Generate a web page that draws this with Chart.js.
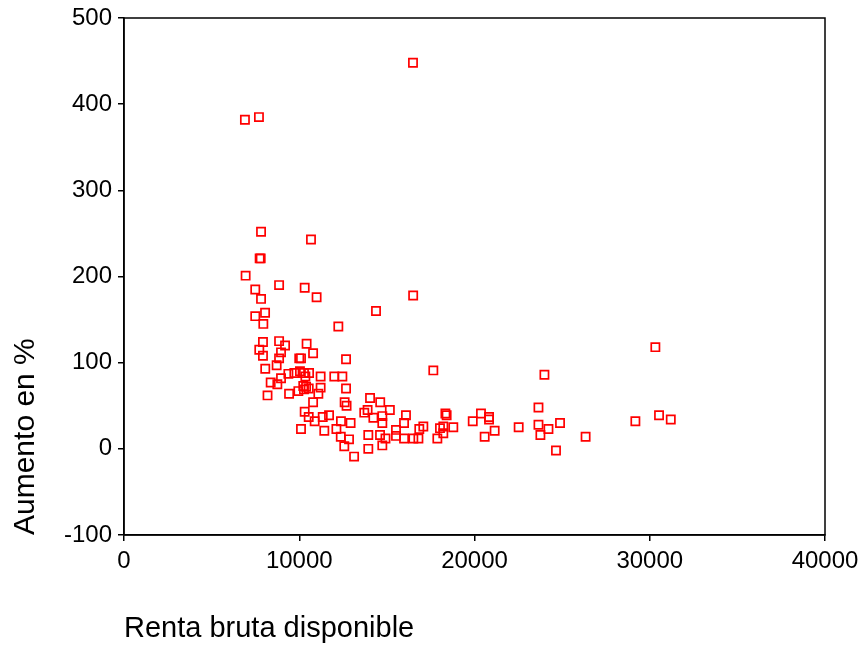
<!DOCTYPE html>
<html>
<head>
<meta charset="utf-8">
<script src="https://cdn.jsdelivr.net/npm/chart.js@4/dist/chart.umd.min.js"></script>
<style>
  html, body { margin: 0; padding: 0; background: #fff; }
  #wrap { width: 864px; height: 646px; }
</style>
</head>
<body>
<div id="wrap"><canvas id="chart" width="864" height="646"></canvas></div>
<script>
// renta bruta disponible (x) and aumento en % (y)
const renta = [
  16490, 6900, 7700, 7820, 7740, 7800, 10670, 6940, 7490, 8850,
  10310, 7820, 10990, 16500, 14380, 8050, 7490, 7950, 12230, 7930,
  8850, 9190, 10420, 7720, 7930, 8960, 10790, 8850, 10000, 10100,
  12670, 8710, 8060, 9380, 9720, 10040, 10270, 10560, 10350, 11220,
  12000, 12460, 8960, 8370, 8750, 10230, 10390, 10540, 11220, 12670,
  9950, 10270, 9420, 11090, 8190, 10790, 12590, 12700, 14040, 14620,
  15170, 13710, 13900, 14230, 14740, 10310, 10540, 10880, 11340, 11700,
  12380, 12930, 14740, 10100, 11430, 12120, 12370, 12840, 12570, 13130,
  13940, 13940, 14610, 14740, 14920, 15520, 15520, 15980, 16090, 15980,
  16510, 16800, 16850, 17080, 17880, 18030, 18220, 18220, 18340, 18410,
  18790, 17650, 19900, 20370, 20830, 20830, 21150, 20580, 22520, 23650,
  23650, 23760, 24220, 23990, 24880, 24650, 26340, 29180, 30320, 30530,
  31200
];
const aumento = [
  448, 382, 385, 252, 221, 221, 243, 201, 185, 190,
  187, 174, 176, 178, 160, 158, 154, 145, 142, 124,
  125, 120, 122, 115, 108, 112, 111, 105, 105, 105,
  104, 97, 93, 87, 88, 90, 88, 88, 84, 84,
  84, 84, 82, 77, 75, 73, 72, 70, 71, 70,
  67, 69, 64, 64, 62, 54, 54, 50, 59, 54,
  45, 42, 45, 36, 38, 43, 37, 32, 37, 39,
  32, 30, 30, 23, 21, 23, 14, 11, 3, -9,
  16, 0, 16, 4, 12, 22, 15, 12, 39, 30,
  12, 12, 23, 26, 12, 24, 26, 18, 41, 39,
  25, 91, 32, 41, 37, 34, 21, 14, 25, 48,
  28, 16, 23, 86, 30, -2, 14, 32, 118, 39,
  34
];
const xTicks = [0, 10000, 20000, 30000, 40000];
const yTicks = [-100, 0, 100, 200, 300, 400, 500];

const points = renta.map((x, i) => ({ x: x, y: aumento[i] }));

// full box around the plot area
const frame = {
  id: "frame",
  afterDraw(chart) {
    const a = chart.chartArea;
    const c = chart.ctx;
    c.save();
    c.strokeStyle = "#000";
    c.lineWidth = 1.5;
    c.strokeRect(a.left, a.top, a.right - a.left, a.bottom - a.top);
    c.restore();
  }
};

const fam = "Liberation Sans, Arial, sans-serif";
const tickFont = { family: fam, size: 24, lineHeight: 1.0 };

new Chart(document.getElementById("chart"), {
  type: "scatter",
  data: {
    datasets: [{
      data: points,
      pointStyle: "rect",
      pointRadius: 5.8,
      pointHoverRadius: 5.8,
      borderWidth: 1.7,
      borderColor: "#ff0000",
      backgroundColor: "rgba(0,0,0,0)"
    }]
  },
  options: {
    responsive: false,
    animation: false,
    layout: { padding: { top: 18, right: 39, left: 0, bottom: 0 } },
    plugins: { legend: { display: false }, tooltip: { enabled: false } },
    scales: {
      x: {
        type: "linear",
        min: xTicks[0],
        max: xTicks[xTicks.length - 1],
        afterBuildTicks: (s) => { s.ticks = xTicks.map(v => ({ value: v })); },
        afterFit: (s) => { s.height = 111; s.paddingLeft = 0; s.paddingRight = 0; },
        grid: { drawOnChartArea: false, drawTicks: true, tickLength: 6, color: "#000", lineWidth: 1.5 },
        border: { display: true, color: "#000", width: 1.5 },
        ticks: { color: "#000", font: tickFont, padding: 8, maxRotation: 0, callback: (v) => String(v) },
        title: {
          display: true,
          text: "Renta bruta disponible",
          align: "start",
          color: "#000",
          font: { family: fam, size: 29 },
          padding: { top: 4, bottom: 0 }
        }
      },
      y: {
        type: "linear",
        min: yTicks[0],
        max: yTicks[yTicks.length - 1],
        afterBuildTicks: (s) => { s.ticks = yTicks.map(v => ({ value: v })); },
        afterFit: (s) => { s.width = 124; s.paddingTop = 0; s.paddingBottom = 0; },
        grid: { drawOnChartArea: false, drawTicks: true, tickLength: 6, color: "#000", lineWidth: 1.5 },
        border: { display: true, color: "#000", width: 1.5 },
        ticks: { color: "#000", font: tickFont, padding: 6, callback: (v) => String(v) },
        title: {
          display: true,
          text: "Aumento en %",
          align: "start",
          color: "#000",
          font: { family: fam, size: 30 },
          padding: { top: 8, bottom: 4 }
        }
      }
    }
  },
  plugins: [frame]
});
</script>
</body>
</html>
